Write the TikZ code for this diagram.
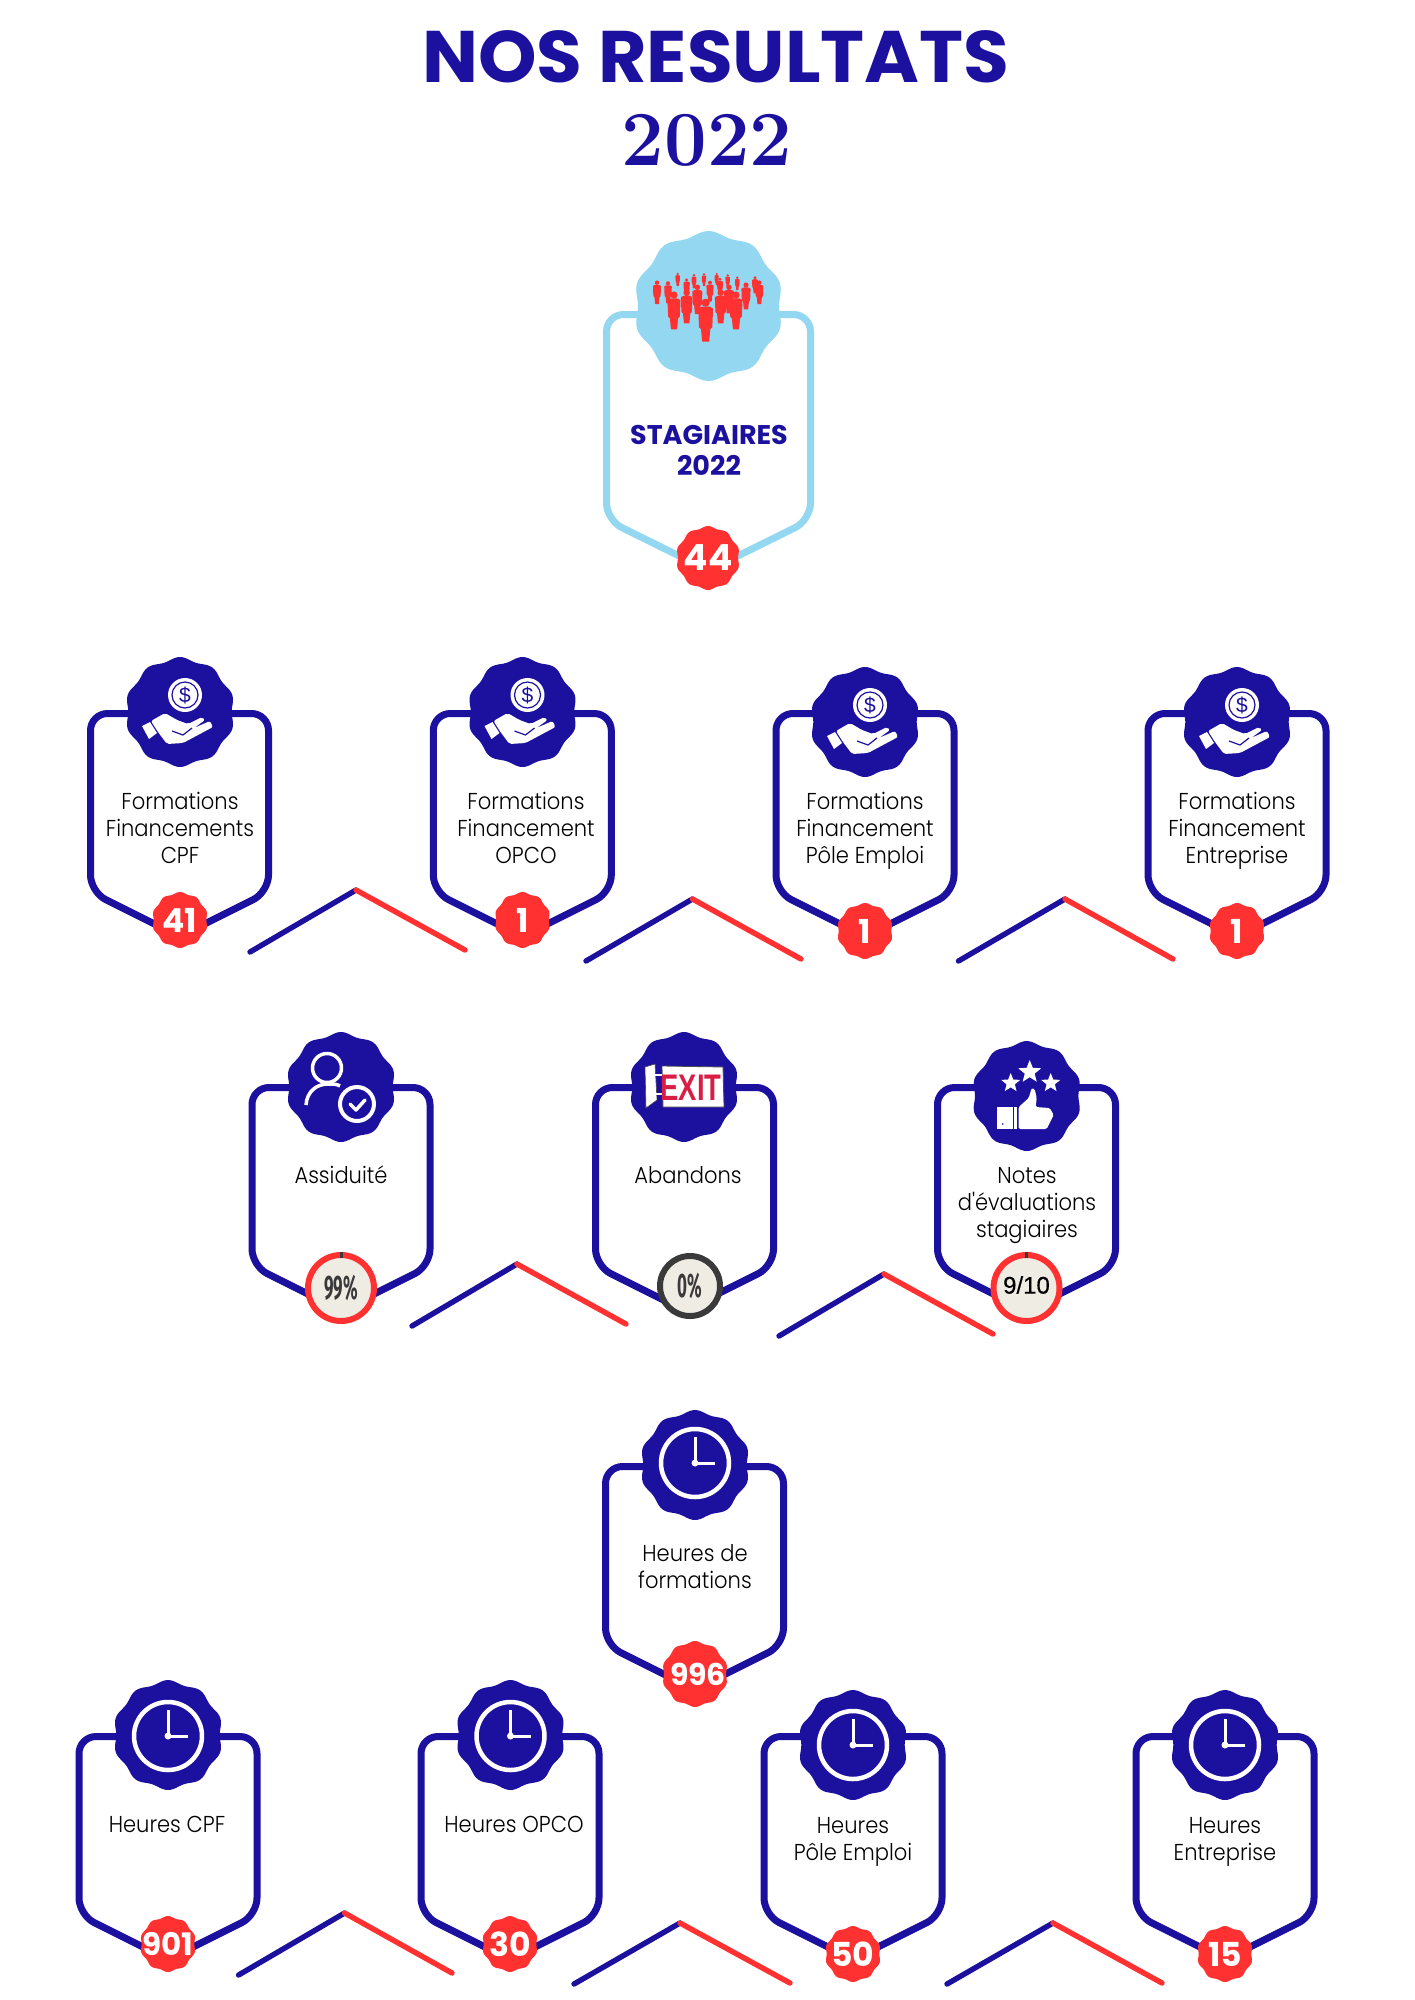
\documentclass[tikz,border=0pt]{standalone}
\usepackage{fontspec}
\usetikzlibrary{shapes.geometric}
\setmainfont{Liberation Sans}
\newfontfamily\lbl[FakeStretch=.915]{Poppins Light}
\newfontfamily\popb{Poppins Bold}
\newfontfamily\ttl[FakeStretch=1.02]{Poppins Bold}
\newfontfamily\cond[FakeStretch=.5]{Fira Sans Bold}
\newfontfamily\medi[FakeBold=.4]{Liberation Sans}
\newfontfamily\lm{Latin Modern Roman}
\definecolor{navy}{HTML}{1C109F}
\definecolor{redc}{HTML}{FF3131}
\definecolor{sky}{HTML}{93D8F0}
\definecolor{cream}{HTML}{EFECE4}
\definecolor{dark}{HTML}{3A3A3A}
\definecolor{crim}{HTML}{D81E45}
\tikzset{
  lab/.style={font=\lbl\fontsize{23}{27}\selectfont,align=center,text=black,inner sep=0},
  bnum/.style={font=\popb\fontsize{33}{33}\selectfont,text=white,inner sep=0},
  wline/.style={draw=white,line width=3.5,line cap=round,line join=round},
  chevblue/.style={draw=navy,line width=5.4,line cap=round},
  chevred/.style={draw=redc,line width=5.4,line cap=round},
}
\newcommand\seal[4]{\fill[#4,shift={(#1,#2)}] plot[domain=0:360,samples=121,smooth] (\x:{#3*(0.97+0.03*cos(10*(\x-90)))}) -- cycle;}
\newcommand\card[6]{\draw[#6,line width=7,rounded corners=17,line join=round]
  ({#1-#3},{#2}) -- ({#1+#3},{#2}) -- ({#1+#3},{#2+#4}) -- (#1,{#2+#5}) -- ({#1-#3},{#2+#4}) -- cycle;}
\newcommand\badge[5]{\seal{#2}{#3}{#4}{redc}\node[bnum] (#1) at (#2,#3) {#5};}
\newcommand\chev[6]{%
  \coordinate (cl) at (#1,#2);\coordinate (ca) at (#3,#4);\coordinate (cr) at (#5,#6);
  \draw[chevblue] (cl) -- (ca);\draw[chevred] (ca) -- (cr);}
\newcommand\coinhand[2]{\begin{scope}[shift={(#1,#2)}]
  \fill[white] (5,-17) circle (17);
  \draw[navy,line width=1.2] (5,-17) circle (13);
  \node[text=navy,inner sep=0,font=\fontsize{21}{21}\selectfont] at (5,-17) {\$};
  \fill[white] (-38,14) -- (-30,10) -- (-23,21) -- (-31,27) -- cycle;
  \fill[white,rounded corners=2] (-29,9) -- (-15,1) -- (-3,8) -- (8,12) -- (22,5) -- (25,8) -- (14,16) -- (30,9) -- (33,15) -- (3,31) -- (-13,32) -- (-22,20) -- cycle;
  \draw[navy,line width=1.2,line join=round] (-8,19) -- (3,23) -- (12,16);
\end{scope}}
\newcommand\clockic[2]{\begin{scope}[shift={(#1,#2)}]
  \draw[white,line width=4.5] (0,0) circle (34);
  \draw[white,line width=3] (0,-26) -- (0,0) -- (20,0);
  \fill[white] (0,0) circle (3.5);
\end{scope}}
\newcommand\person[3]{%
  \pgfmathsetmacro\hh{(#3-#2)/3}%
  \begin{scope}[shift={({560+#1/3},{200+#2/3})},x=\hh pt,y=-\hh pt]
   \fill[redc] (0,0) circle (.105);
   \fill[redc,rounded corners=.5] (-.1,.1) -- (.1,.1) -- (.19,.15) -- (.17,.64) -- (.12,.67) -- (.09,1) -- (-.09,1) -- (-.12,.67) -- (-.17,.64) -- (-.19,.15) -- cycle;
  \end{scope}}
\newcommand\ringb[6]{\node[circle,fill=cream,draw=#5,line width=6,minimum size=#4*2-6,inner sep=0,font=#6] (#1) at (#2,#3) {};}
\begin{document}
\begin{tikzpicture}[x=1pt,y=-1pt]
\useasboundingbox (0,0) rectangle (1414,2000);
\fill[white] (0,0) rectangle (1414,2000);
% titles
\node[font=\ttl\fontsize{73}{73}\selectfont,text=navy,inner sep=0] (titleA) at (716,57) {NOS RESULTATS};
\node[font=\lm\bfseries\fontsize{78}{78}\selectfont,text=navy,inner sep=0] (titleB) at (707,140) {\scalebox{.97}[1]{2022}};
% top card
\card{708.5}{314.5}{102}{205.5}{256}{sky}
\seal{708.5}{306}{75}{sky}
\foreach \a/\b/\c in {353/222/258,402/226/265,432/223/258,470/222/255,503/226/262,532/233/270,585/233/280,291/248/312,324/250/310,598/248/312,380/240/290,480/238/285,450/248/305,558/255/328,412/262/342,507/262/340,380/278/370,482/278/370,342/285/388,528/285/388,437/308/425}{\person{\a}{\b}{\c}}
\node[font=\popb\fontsize{27}{31}\selectfont,text=navy,align=center,inner sep=0] (stag) at (709,450) {STAGIAIRES\\2022};
\badge{b44}{708}{558}{32}{\fontsize{36}{36}\selectfont 44}
% row 1
\card{179.5}{713.5}{89}{178.5}{223}{navy}
\card{522.3}{713.5}{89}{178.5}{223}{navy}
\card{865}{713.5}{89}{178.5}{223}{navy}
\card{1237}{713.5}{89}{178.5}{223}{navy}
\seal{180}{712}{55}{navy}\coinhand{180}{712}
\seal{522.5}{712}{55}{navy}\coinhand{522.5}{712}
\seal{865}{722}{55}{navy}\coinhand{865}{722}
\seal{1237}{722}{55}{navy}\coinhand{1237}{722}
\node[lab] (t1) at (180,831) {\strut Formations\\Financements\\CPF\strut};
\node[lab] (t2) at (526,831) {\strut Formations\\Financement\\OPCO\strut};
\node[lab] (t3) at (865,831) {\strut Formations\\Financement\\Pôle Emploi\strut};
\node[lab] (t4) at (1237,831) {\strut Formations\\Financement\\Entreprise\strut};
\badge{b41}{180}{920}{28}{41}
\badge{b1a}{522.5}{920}{28}{1}
\badge{b1b}{865}{931}{28}{1}
\badge{b1c}{1237}{931}{28}{1}
\chev{250}{952}{356}{890}{465}{950}
\chev{586}{961}{692.5}{899}{801}{959}
\chev{958.5}{961}{1065}{899}{1173}{959}
% row 2
\card{341}{1087.5}{89}{178.5}{223}{navy}
\card{684.5}{1087.5}{89}{178.5}{223}{navy}
\card{1026.5}{1087.5}{89}{178.5}{223}{navy}
\seal{341}{1087}{55}{navy}
\begin{scope}[shift={(341,1087)}]
 \draw[wline] (-14,-19) circle (14.5);
 \draw[wline,line cap=butt] (-35,18) .. controls (-34,4) and (-24,-3) .. (-13,-3) .. controls (-8,-3) and (-4,-3) .. (-1,-1);
 \draw[wline,line width=4] (16,17) circle (17);
 \draw[wline] (9,17) -- (15,23) -- (24,13);
\end{scope}
\seal{684}{1087}{55}{navy}
\begin{scope}[shift={(684,1087)}]
 \fill[white,draw=black!70,line width=.6] (-39,-20) -- (-29,-23) -- (-27,13) -- (-38,21) -- cycle;
 \fill[white,draw=black!70,line width=.8] (-22,-21) -- (39,-20) -- (40,20) -- (-21,20) -- cycle;
 \draw[white,line width=1.5] (-32,-12) -- (-22,-12) (-32,7) -- (-22,7);
 \node[text=crim,inner sep=0,font=\bfseries\fontsize{37}{37}\selectfont] (exit) at (7,1) {\scalebox{.74}[1]{EXIT}};
\end{scope}
\seal{1026.7}{1096}{55}{navy}
\begin{scope}[shift={(1026.7,1096)}]
 \node[star,star points=5,star point ratio=2.3,fill=white,inner sep=0,minimum size=24] (st1) at (3,-24) {};
 \node[star,star points=5,star point ratio=2.3,fill=white,inner sep=0,minimum size=20] (st2) at (-16,-13) {};
 \node[star,star points=5,star point ratio=2.3,fill=white,inner sep=0,minimum size=20] (st3) at (24,-13) {};
 \fill[white] (-30,11) rectangle (-14,33);
 \fill[navy] (-24,28) circle (.9);
 \fill[white] (-13,11) rectangle (-10,33);
 \fill[white,rounded corners=1.5] (-8,11) -- (2,2) -- (5,-8) -- (8,-7) -- (10,2) -- (9,11) -- (23,12) -- (27,19) -- (23,27) -- (20,33) -- (-8,33) -- cycle;
\end{scope}
\node[lab] (t5) at (341,1178.5) {\strut Assiduité\strut};
\node[lab] (t6) at (688,1178.5) {\strut Abandons\strut};
\node[lab] (t7) at (1027,1205.5) {\strut Notes\\d'évaluations\\stagiaires\strut};
\ringb{b99}{341}{1288}{36}{redc}{}
\fill[dark] (339.5,1252) rectangle (342.5,1258);
\node[text=dark,inner sep=0,font=\cond\fontsize{34}{34}\selectfont] (n99) at (b99) {99\%};
\ringb{b0}{690}{1286}{33}{dark}{}
\node[text=dark,inner sep=0,font=\cond\fontsize{34}{34}\selectfont] (n0) at (b0) {0\%};
\ringb{b910}{1026.5}{1288}{36}{redc}{}
\fill[dark] (1025,1252) rectangle (1028,1258);
\node[text=black,inner sep=0,font=\medi\fontsize{24}{24}\selectfont] (n910) at (1026.5,1285) {9/10};
\chev{412}{1326}{517}{1264}{626}{1324}
\chev{779}{1336}{884}{1274}{993}{1334}
% row 3 centre
\card{694.5}{1466.5}{89}{178.5}{223}{navy}
\seal{695}{1465}{55}{navy}\clockic{695}{1463}
\node[lab] (t8) at (695,1570) {\strut Heures de\\formations\strut};
\seal{695}{1674}{33}{redc}
\node[bnum,font=\popb\fontsize{30}{30}\selectfont] (b996) at (698,1674) {996};
% bottom row
\card{168}{1736.5}{89}{178.5}{223}{navy}
\card{510}{1736.5}{89}{178.5}{223}{navy}
\card{853}{1736.5}{89}{178.5}{223}{navy}
\card{1225}{1736.5}{89}{178.5}{223}{navy}
\seal{168}{1735}{55}{navy}\clockic{168}{1736}
\seal{510.5}{1735}{55}{navy}\clockic{510.5}{1736}
\seal{853}{1745}{55}{navy}\clockic{853}{1745}
\seal{1225}{1745}{55}{navy}\clockic{1225}{1745}
\node[lab] (t9) at (167,1827) {\strut Heures CPF\strut};
\node[lab] (t10) at (514,1827) {\strut Heures OPCO\strut};
\node[lab] (t11) at (853,1841.5) {\strut Heures\\Pôle Emploi\strut};
\node[lab] (t12) at (1225,1841.5) {\strut Heures\\Entreprise\strut};
\badge{b901}{168}{1944}{28}{\fontsize{31}{31}\selectfont 901}
\badge{b30}{510}{1944}{28}{30}
\badge{b50}{853}{1954}{28}{50}
\badge{b15}{1225}{1954}{28}{15}
\chev{238.6}{1975}{344.6}{1913}{452}{1973}
\chev{574}{1984}{680}{1923}{790}{1983}
\chev{947}{1984}{1053}{1923}{1162}{1983}
\end{tikzpicture}
\end{document}
